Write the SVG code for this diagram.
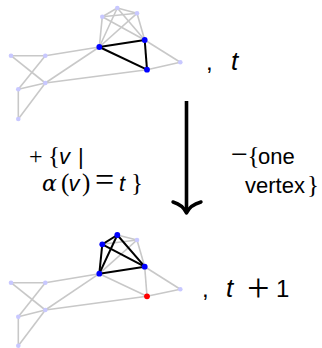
<svg xmlns="http://www.w3.org/2000/svg" width="322" height="348" viewBox="0 0 322 348">
<style>
.e{stroke:#c8c8c8;stroke-width:1.6;fill:none}
.k{stroke:#000;stroke-width:2;fill:none}
.n{fill:#c8c8ff}
.b{fill:#0000ff}
.r{fill:#ff0000}
text{font-family:"Liberation Sans",Arial,sans-serif;font-size:22px;fill:#000}
.i{font-style:italic}
.m{font-family:"Liberation Serif","DejaVu Serif",serif;font-size:25px}
</style>
<g id="connectors">
<g id="top-edges">
<line class="e" x1="102.3" y1="16.7" x2="117.3" y2="8"/>
<line class="e" x1="117.3" y1="8" x2="137" y2="13.3"/>
<line class="e" x1="102.3" y1="16.7" x2="137" y2="13.3"/>
<line class="e" x1="102.3" y1="16.7" x2="99.3" y2="47"/>
<line class="e" x1="102.3" y1="16.7" x2="144.7" y2="40"/>
<line class="e" x1="117.3" y1="8" x2="99.3" y2="47"/>
<line class="e" x1="117.3" y1="8" x2="144.7" y2="40"/>
<line class="e" x1="137" y1="13.3" x2="99.3" y2="47"/>
<line class="e" x1="137" y1="13.3" x2="144.7" y2="40"/>
<line class="e" x1="144.7" y1="40" x2="180.3" y2="62.3"/>
<line class="e" x1="147" y1="69.7" x2="180.3" y2="62.3"/>
<line class="e" x1="99.3" y1="47" x2="45.3" y2="55.7"/>
<line class="e" x1="99.3" y1="47" x2="45.3" y2="83"/>
<line class="e" x1="11" y1="55.7" x2="45.3" y2="55.7"/>
<line class="e" x1="11" y1="55.7" x2="45.3" y2="83"/>
<line class="e" x1="45.3" y1="55.7" x2="18.3" y2="89.3"/>
<line class="e" x1="18.3" y1="89.3" x2="45.3" y2="83"/>
<line class="e" x1="45.3" y1="83" x2="147" y2="69.7"/>
<line class="e" x1="18.3" y1="89.3" x2="18.3" y2="119"/>
<line class="e" x1="45.3" y1="83" x2="18.3" y2="119"/>
<line class="k" x1="99.3" y1="47" x2="144.7" y2="40"/>
<line class="k" x1="144.7" y1="40" x2="147" y2="69.7"/>
<line class="k" x1="99.3" y1="47" x2="147" y2="69.7"/>
</g>
<g id="bottom-edges">
<line class="e" x1="117.3" y1="235" x2="137" y2="240"/>
<line class="e" x1="102.3" y1="244.3" x2="137" y2="240"/>
<line class="e" x1="137" y1="240" x2="99.3" y2="273.7"/>
<line class="e" x1="137" y1="240" x2="144.7" y2="266.7"/>
<line class="e" x1="144.7" y1="266.7" x2="180.3" y2="289.3"/>
<line class="e" x1="147" y1="296.3" x2="180.3" y2="289.3"/>
<line class="e" x1="144.7" y1="266.7" x2="147" y2="296.3"/>
<line class="e" x1="99.3" y1="273.7" x2="147" y2="296.3"/>
<line class="e" x1="99.3" y1="273.7" x2="45.3" y2="282.7"/>
<line class="e" x1="99.3" y1="273.7" x2="45.3" y2="310"/>
<line class="e" x1="11" y1="282.7" x2="45.3" y2="282.7"/>
<line class="e" x1="11" y1="282.7" x2="45.3" y2="310"/>
<line class="e" x1="45.3" y1="282.7" x2="18.3" y2="316.7"/>
<line class="e" x1="18.3" y1="316.7" x2="45.3" y2="310"/>
<line class="e" x1="45.3" y1="310" x2="147" y2="296.3"/>
<line class="e" x1="18.3" y1="316.7" x2="18.3" y2="345.7"/>
<line class="e" x1="45.3" y1="310" x2="18.3" y2="345.7"/>
<line class="k" x1="102.3" y1="244.3" x2="117.3" y2="235"/>
<line class="k" x1="117.3" y1="235" x2="144.7" y2="266.7"/>
<line class="k" x1="102.3" y1="244.3" x2="144.7" y2="266.7"/>
<line class="k" x1="102.3" y1="244.3" x2="99.3" y2="273.7"/>
<line class="k" x1="117.3" y1="235" x2="99.3" y2="273.7"/>
<line class="k" x1="99.3" y1="273.7" x2="144.7" y2="266.7"/>
</g>
<g id="main-arrow">
<line x1="186.5" y1="101" x2="186.5" y2="211" stroke="#000" stroke-width="3.6"/>
<path d="M173,202 Q183,205 186.5,213 Q190,205 201,202" stroke="#000" stroke-width="3.4" fill="none" stroke-linecap="round" stroke-linejoin="round"/>
</g>
</g>
<g id="top-graph">
<circle class="n" cx="117.3" cy="8" r="2.3"/>
<circle class="n" cx="102.3" cy="16.7" r="2.3"/>
<circle class="n" cx="137" cy="13.3" r="2.3"/>
<circle class="n" cx="180.3" cy="62.3" r="2.3"/>
<circle class="n" cx="11" cy="55.7" r="2.3"/>
<circle class="n" cx="45.3" cy="55.7" r="2.3"/>
<circle class="n" cx="45.3" cy="83" r="2.3"/>
<circle class="n" cx="18.3" cy="89.3" r="2.3"/>
<circle class="n" cx="18.3" cy="119" r="2.3"/>
<circle class="b" cx="99.3" cy="47" r="2.9"/>
<circle class="b" cx="144.7" cy="40" r="2.9"/>
<circle class="b" cx="147" cy="69.7" r="2.9"/>
</g>
<g id="bottom-graph">
<circle class="n" cx="137" cy="240" r="2.3"/>
<circle class="n" cx="180.3" cy="289.3" r="2.3"/>
<circle class="n" cx="11" cy="282.7" r="2.3"/>
<circle class="n" cx="45.3" cy="282.7" r="2.3"/>
<circle class="n" cx="45.3" cy="310" r="2.3"/>
<circle class="n" cx="18.3" cy="316.7" r="2.3"/>
<circle class="n" cx="18.3" cy="345.7" r="2.3"/>
<circle class="b" cx="117.3" cy="235" r="2.9"/>
<circle class="b" cx="102.3" cy="244.3" r="2.9"/>
<circle class="b" cx="99.3" cy="273.7" r="2.9"/>
<circle class="b" cx="144.7" cy="266.7" r="2.9"/>
<circle class="r" cx="147" cy="296.3" r="2.9"/>
</g>
<g id="label-t">
<text x="206" y="70" style="font-size:24px">,</text>
<text x="231" y="70" class="i" style="font-size:26px">t</text>
</g>
<g id="label-t1">
<text x="202" y="297" style="font-size:24px">,</text>
<text x="226" y="297" class="i" style="font-size:26px">t</text>
<text x="247" y="301" class="m" style="font-size:40px">+</text>
<text x="276" y="297" style="font-size:24px">1</text>
</g>
<g id="label-left">
<text y="164"><tspan x="29" class="m" style="font-size:24px">+</tspan><tspan x="48" class="m">{</tspan><tspan x="59" class="i">v</tspan><tspan x="78">|</tspan></text>
<text y="191"><tspan x="42" class="i" style="font-family:'DejaVu Serif',serif">α</tspan><tspan x="61" class="m">(</tspan><tspan x="68.5" class="i">v</tspan><tspan x="82" class="m">)</tspan><tspan x="95" class="m" style="font-size:34px">=</tspan><tspan x="119" class="i">t</tspan><tspan x="131" class="m">}</tspan></text>
</g>
<g id="label-right">
<text y="164"><tspan x="231" class="m" style="font-size:30px">−</tspan><tspan x="247.5" class="m">{</tspan><tspan x="258">one</tspan></text>
<text y="193"><tspan x="245">vertex</tspan><tspan x="307" class="m">}</tspan></text>
</g>
</svg>
